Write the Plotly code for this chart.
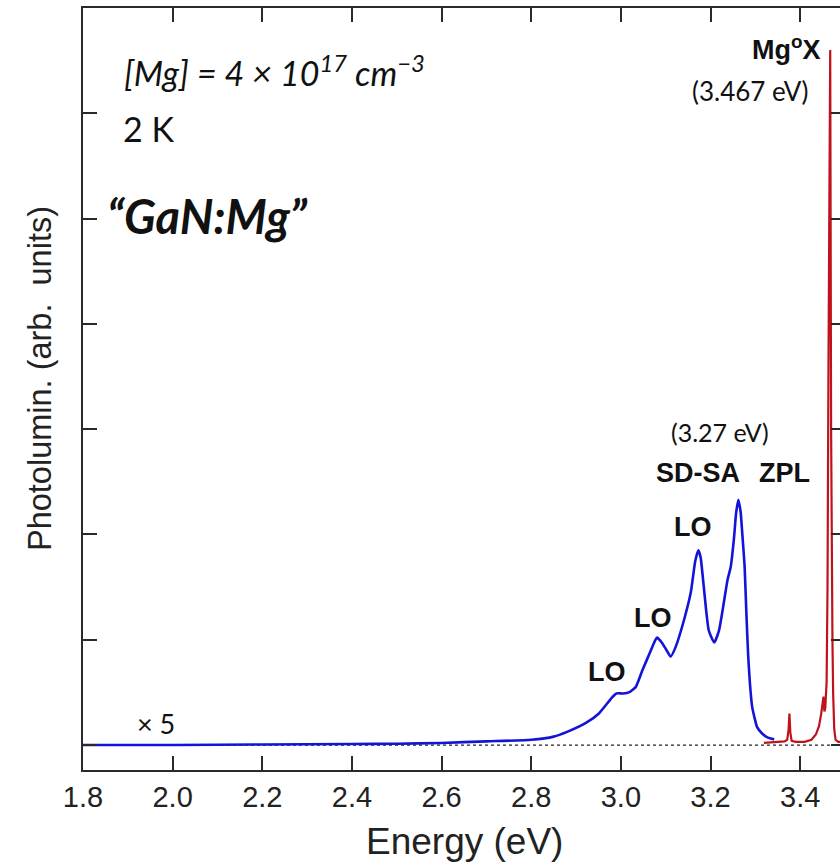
import plotly.graph_objects as go

# Photoluminescence of Mg-doped GaN at 2 K
# Low-energy band (shown magnified x5)
blue_E = [1.80, 2.00, 2.20, 2.40, 2.50, 2.60, 2.70, 2.80, 2.85, 2.88, 2.922, 2.951,
          2.980, 2.990, 3.005, 3.018, 3.033, 3.048, 3.067, 3.076, 3.081, 3.086,
          3.092, 3.102, 3.111, 3.122, 3.141, 3.156, 3.166, 3.173, 3.178, 3.185,
          3.196, 3.208, 3.219, 3.238, 3.245, 3.252, 3.257, 3.262, 3.267, 3.271,
          3.276, 3.280, 3.284, 3.288, 3.293, 3.304, 3.315, 3.328, 3.342]
blue_I = [0.00, 0.00, 0.005, 0.01, 0.012, 0.02, 0.035, 0.05, 0.08, 0.125, 0.21, 0.30,
          0.45, 0.49, 0.49, 0.50, 0.55, 0.71, 0.90, 0.99, 1.02, 1.00,
          0.97, 0.90, 0.84, 0.93, 1.19, 1.45, 1.75, 1.85, 1.78, 1.50,
          1.09, 0.975, 1.09, 1.57, 1.69, 1.95, 2.20, 2.33, 2.22, 2.00,
          1.70, 1.25, 0.85, 0.58, 0.36, 0.17, 0.11, 0.07, 0.054]

# Near-band-edge region (unscaled)
red_E = [3.319, 3.33, 3.35, 3.365, 3.371, 3.374, 3.376, 3.378, 3.381, 3.39, 3.41,
         3.425, 3.435, 3.442, 3.447, 3.450, 3.452, 3.454, 3.456, 3.459, 3.461,
         3.463, 3.465, 3.467, 3.469, 3.4705, 3.472, 3.4735, 3.476, 3.479, 3.485,
         3.49, 3.50]
red_I = [0.02, 0.025, 0.03, 0.035, 0.05, 0.14, 0.30, 0.12, 0.04, 0.03, 0.03,
         0.05, 0.10, 0.18, 0.30, 0.42, 0.46, 0.32, 0.35, 0.60, 1.5,
         3.5, 5.5, 6.6, 3.0, 1.2, 1.0, 0.5, 0.15, 0.05, 0.03,
         0.03, 0.03]

x_range = [1.8, 3.5]
y_range = [-0.237, 7.0]
x_ticks = [1.8, 2.0, 2.2, 2.4, 2.6, 2.8, 3.0, 3.2, 3.4]
x_tick_text = ["1.8", "2.0", "2.2", "2.4", "2.6", "2.8", "3.0", "3.2", "3.4"]

CAL = "Lato, Carlito, Calibri, sans-serif"
ARI = "Liberation Sans, Arial, Helvetica, sans-serif"

fig = go.Figure()

# zero line
fig.add_trace(go.Scatter(x=x_range, y=[0, 0], mode="lines",
                         line=dict(color="#222222", width=1.2, dash="dot"),
                         hoverinfo="skip"))
fig.add_trace(go.Scatter(x=blue_E, y=blue_I, mode="lines",
                         line=dict(color="#1414d8", width=2.6, shape="spline", smoothing=0.5)))
fig.add_trace(go.Scatter(x=red_E, y=red_I, mode="lines",
                         line=dict(color="#c0121c", width=2.2)))

axis_common = dict(showline=True, linecolor="#2a2a2a", linewidth=2, mirror="ticks",
                   ticks="inside", ticklen=14, tickwidth=2, tickcolor="#2a2a2a",
                   showgrid=False, zeroline=False)

fig.update_xaxes(range=x_range, tickvals=x_ticks, ticktext=x_tick_text,
                 tickfont=dict(family=ARI, size=29, color="#222222"), **axis_common)
fig.update_yaxes(range=y_range, tick0=0, dtick=1, showticklabels=False, **axis_common)

ann = []


def label(text, x, y, size, family, xanchor="center", yanchor="middle", color="#111111",
          xref="x", yref="y", xshift=0, yshift=0, angle=0):
    ann.append(dict(text=text, x=x, y=y, xref=xref, yref=yref, showarrow=False,
                    xanchor=xanchor, yanchor=yanchor, xshift=xshift, yshift=yshift,
                    textangle=angle, font=dict(size=size, family=family, color=color)))


label("<i>[Mg] = 4 \u00d7 10<sup>17</sup> cm<sup>\u22123</sup></i>", 1.888, 6.4, 34, CAL, xanchor="left")
label("2 K", 1.884, 5.86, 34, CAL, xanchor="left")
label("<b><i>\u201cGaN:Mg\u201d</i></b>", 1.850, 5.02, 47, CAL, xanchor="left")
label("<b>Mg<sup>o</sup>X</b>", 3.451, 6.62, 27, ARI, xanchor="right")
label("(3.467 eV)", 3.425, 6.21, 26, CAL, xanchor="right")
label("(3.27 eV)", 3.222, 2.97, 25, CAL)
label("<b>SD-SA</b>", 3.173, 2.58, 27, ARI)
label("<b>ZPL</b>", 3.365, 2.58, 27, ARI)
label("<b>LO</b>", 3.160, 2.07, 27, ARI)
label("<b>LO</b>", 3.071, 1.21, 27, ARI)
label("<b>LO</b>", 2.970, 0.69, 27, ARI)
label("\u00d7 5", 1.962, 0.20, 27, CAL)

# axis titles
label("Energy (eV)", 0.5, 0, 37, ARI, xref="paper", yref="paper", yanchor="middle",
      yshift=-71, color="#222222")
label("Photolumin. (arb.&nbsp; units)", 0, 0.5, 32.5, ARI, xref="paper", yref="paper",
      xshift=-43, yshift=10, angle=-90, color="#222222")

fig.update_layout(
    width=848, height=863,
    margin=dict(l=83, r=1, t=8, b=93),
    paper_bgcolor="white", plot_bgcolor="white",
    showlegend=False,
    annotations=ann,
)

fig.write_html("out.html")
